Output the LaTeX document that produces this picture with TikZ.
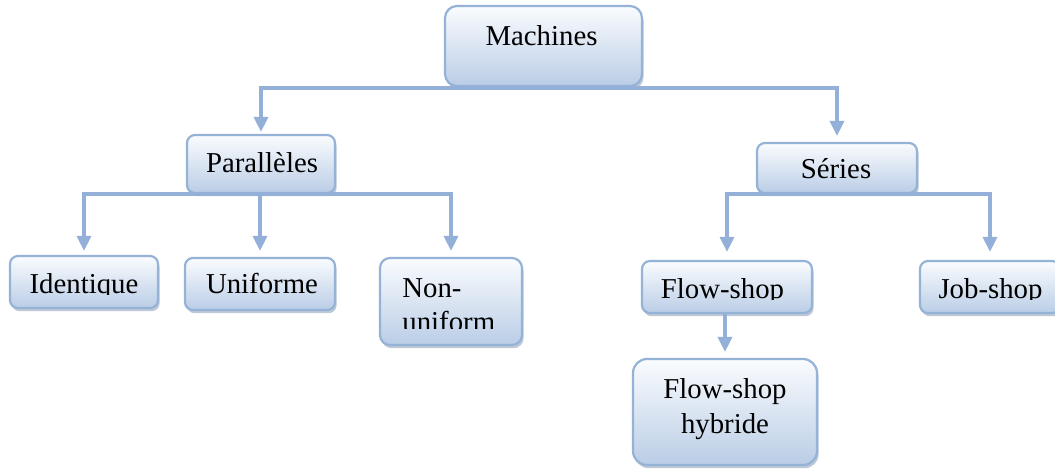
\documentclass[tikz,border=0pt]{standalone}
\usepackage{fontspec}
\setmainfont{Liberation Serif}
\usetikzlibrary{arrows.meta,shadows}

\definecolor{boxedge}{HTML}{95B3D7}
\definecolor{boxtop}{HTML}{FAFCFE}
\definecolor{boxbot}{HTML}{BACDE6}
\definecolor{linkblue}{HTML}{94B0D8}
\definecolor{boxshade}{HTML}{6F86A8}

\begin{document}
\begin{tikzpicture}[x=0.5pt,y=-0.5pt,
  box/.style={draw=boxedge, line width=1.1pt, rounded corners=4pt,
    top color=boxtop, bottom color=boxbot, inner sep=0pt,
    drop shadow={shadow xshift=0.8pt, shadow yshift=-1.6pt, fill=boxshade, opacity=0.45}},
  lbl/.style={font=\fontsize{14.4}{17}\selectfont, inner sep=0pt, text=black},
  link/.style={draw=linkblue, line width=1.6pt,
    -{Triangle[width=7pt,length=7.5pt]}},
  wire/.style={draw=linkblue, line width=1.6pt}]

\useasboundingbox (0,0) rectangle (1055,468);
\fill[white] (0,0) rectangle (1055,468);

% boxes
\node[box, rounded corners=6pt, minimum width=98.5pt, minimum height=40pt] (mach) at (543.5,46) {};
\node[box, minimum width=74pt, minimum height=29pt] (par) at (261,164) {};
\node[box, minimum width=80pt, minimum height=25pt] (ser) at (837,168) {};
\node[box, minimum width=74pt, minimum height=26pt] (ide) at (84,282) {};
\node[box, minimum width=75pt, minimum height=26pt] (uni) at (260,284) {};
\node[box, rounded corners=5pt, minimum width=71pt, minimum height=43.5pt] (non) at (451,301.5) {};
\node[box, minimum width=85pt, minimum height=26pt] (fs) at (727,287) {};
\node[box, minimum width=70pt, minimum height=26pt] (js) at (990,287) {};
\node[box, rounded corners=7pt, minimum width=92pt, minimum height=53pt] (fsh) at (725,412) {};

% labels
\node[lbl, anchor=base] (mach-t) at (541.5,45) {Machines};
\node[lbl, anchor=base] (par-t) at (262,172) {Parallèles};
\node[lbl, anchor=base] (ser-t) at (836,178) {Séries};
\node[lbl, anchor=base] (uni-t) at (262,293) {Uniforme};
\node[lbl, anchor=base west] (non-t1) at (402,297) {Non-};
\node[lbl, anchor=base] (fsh-t1) at (725,398) {Flow-shop};
\node[lbl, anchor=base] (fsh-t2) at (725,433) {hybride};

% labels whose lower edge is cut off by the box text area
\begin{scope}
  \clip (10,250) rectangle (160,294);
  \node[lbl, anchor=base] (ide-t) at (84,293) {Identique};
\end{scope}
\begin{scope}
  \clip (380,305) rectangle (522,328.5);
  \node[lbl, anchor=base west] (non-t2) at (402,331) {uniform};
\end{scope}
\begin{scope}
  \clip (642,265) rectangle (812,299);
  \node[lbl, anchor=base] (fs-t) at (722.5,298) {Flow-shop};
\end{scope}
\begin{scope}
  \clip (920,265) rectangle (1055,299);
  \node[lbl, anchor=base] (js-t) at (990.5,298) {Job-shop};
\end{scope}

% connectors
\coordinate (mj) at (543.5,88);
\draw[wire] (mach.south) -- (mj);
\draw[link, shorten >=1pt] (mj) -| (par.north);
\draw[link, shorten >=3pt] (mj) -| (ser.north);

\coordinate (pj) at (261,194);
\draw[wire] (par.south) -- (pj);
\draw[link, shorten >=2pt] (pj) -| (ide.north);
\draw[link, shorten >=3pt] (pj) -| (uni.north);
\draw[link, shorten >=3pt] (pj) -| (non.north);

\coordinate (sj) at (837,194);
\draw[wire] (ser.south) -- (sj);
\draw[link, shorten >=4pt] (sj) -| (fs.north);
\draw[link, shorten >=4pt] (sj) -| (js.north);

\draw[link, shorten >=3pt] (fsh.north |- fs.south) -- (fsh.north);
\end{tikzpicture}
\end{document}
